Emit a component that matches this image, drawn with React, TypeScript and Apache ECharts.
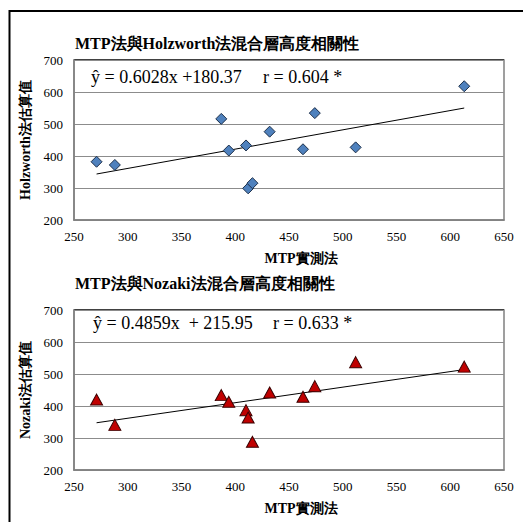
import React, { useEffect, useRef } from "react";
import * as echarts from "echarts";

const mtp = [271, 288, 387, 394, 410, 412, 416, 432, 463, 474, 512, 613];
const holzworth = [382, 372, 516, 417, 433, 299, 315, 476, 421, 534, 427, 618];
const nozaki = [420, 341, 434, 413, 387, 364, 288, 442, 429, 462, 537, 523];

const holzFit = { slope: 0.6028, intercept: 180.37, r: 0.604 };
const nozFit = { slope: 0.4859, intercept: 215.95, r: 0.633 };

const titles = ["MTP法與Holzworth法混合層高度相關性", "MTP法與Nozaki法混合層高度相關性"];
const yNames = ["Holzworth法估算值", "Nozaki法估算值"];
const xName = "MTP實測法";
const eqLeft = ["ŷ = 0.6028x +180.37", "ŷ = 0.4859x  + 215.95"];
const eqRight = ["r = 0.604 *", "r = 0.633 *"];

const X_MIN = 250, X_MAX = 650, X_INT = 50;
const Y_MIN = 200, Y_MAX = 700, Y_INT = 100;

const SERIF = "Liberation Serif";

function trend(fit: { slope: number; intercept: number }) {
  const lo = Math.min(...mtp);
  const hi = Math.max(...mtp);
  return [
    [lo, fit.slope * lo + fit.intercept],
    [hi, fit.slope * hi + fit.intercept],
  ];
}

export default function App() {
  const ref = useRef<HTMLDivElement>(null);
  useEffect(() => {
    if (!ref.current) return;
    const chart = echarts.init(ref.current, undefined, { renderer: "svg" });
    const grids = [
      { left: 74, top: 60, width: 430, height: 160 },
      { left: 74, top: 310, width: 430, height: 160 },
    ];
    const labelStyle = { fontFamily: SERIF, fontSize: 13, color: "#000" };
    const xAxes = grids.map((_, i) => ({
      type: "value",
      gridIndex: i,
      min: X_MIN,
      max: X_MAX,
      interval: X_INT,
      name: xName,
      nameLocation: "middle",
      nameGap: 31,
      nameTextStyle: { fontFamily: SERIF, fontWeight: "bold", fontSize: 14, color: "#000", padding: [0, 0, 0, 24] },
      axisLine: { show: true, lineStyle: { color: "#808080", width: 1.5 } },
      axisTick: { show: false },
      splitLine: { show: false },
      axisLabel: { ...labelStyle, margin: 10 },
    }));
    const yAxes = grids.map((_, i) => ({
      type: "value",
      gridIndex: i,
      min: Y_MIN,
      max: Y_MAX,
      interval: Y_INT,
      name: yNames[i],
      nameLocation: "middle",
      nameRotate: 90,
      nameGap: 33,
      nameTextStyle: { fontFamily: SERIF, fontWeight: "bold", fontSize: 14, color: "#000" },
      axisLine: { show: true, lineStyle: { color: "#808080", width: 1.5 } },
      axisTick: { show: false },
      splitLine: { show: true, lineStyle: { color: "#8c8c8c", width: 1 } },
      axisLabel: { ...labelStyle, margin: 11 },
    }));
    const titleStyle = { fontFamily: SERIF, fontWeight: "bold", fontSize: 16, color: "#000" };
    const eqStyle = { fontFamily: SERIF, fontWeight: "normal", fontSize: 18, color: "#000" };
    const option = {
      animation: false,
      backgroundColor: "#fff",
      textStyle: { fontFamily: SERIF },
      title: [
        { text: titles[0], left: 75, top: 35, padding: 0, textStyle: titleStyle },
        { text: titles[1], left: 75, top: 275, padding: 0, textStyle: titleStyle },
        { text: eqLeft[0], left: 91, top: 68, padding: 0, textStyle: eqStyle },
        { text: eqRight[0], left: 263, top: 68, padding: 0, textStyle: eqStyle },
        { text: eqLeft[1], left: 93, top: 314, padding: 0, textStyle: eqStyle },
        { text: eqRight[1], left: 273, top: 314, padding: 0, textStyle: eqStyle },
      ],
      grid: grids.map((g) => ({ ...g, show: true, borderColor: "#808080", borderWidth: 1.5, backgroundColor: "transparent" })),
      xAxis: xAxes,
      yAxis: yAxes,
      graphic: [
        { type: "line", shape: { x1: 9.5, y1: 10, x2: 9.5, y2: 522 }, style: { stroke: "#000", lineWidth: 2 } },
        { type: "line", shape: { x1: 9, y1: 11, x2: 523, y2: 11 }, style: { stroke: "#000", lineWidth: 2 } },
        { type: "line", shape: { x1: 74, y1: 60, x2: 504, y2: 60 }, style: { stroke: "#222", lineWidth: 1.5 } },
        { type: "line", shape: { x1: 74, y1: 310, x2: 504, y2: 310 }, style: { stroke: "#222", lineWidth: 1.5 } },
      ],
      series: [
        {
          type: "line",
          xAxisIndex: 0,
          yAxisIndex: 0,
          data: trend(holzFit),
          symbol: "none",
          lineStyle: { color: "#000", width: 1 },
          z: 2,
        },
        {
          type: "scatter",
          xAxisIndex: 0,
          yAxisIndex: 0,
          data: mtp.map((x, i) => [x, holzworth[i]]),
          symbol: "diamond",
          symbolSize: [11, 11],
          itemStyle: { color: "#4f81bd", borderColor: "#1c2f4a", borderWidth: 1, opacity: 1 },
          z: 3,
        },
        {
          type: "line",
          xAxisIndex: 1,
          yAxisIndex: 1,
          data: trend(nozFit),
          symbol: "none",
          lineStyle: { color: "#000", width: 1 },
          z: 2,
        },
        {
          type: "scatter",
          xAxisIndex: 1,
          yAxisIndex: 1,
          data: mtp.map((x, i) => [x, nozaki[i]]),
          symbol: "triangle",
          symbolSize: [12, 11],
          itemStyle: { color: "#c00000", borderColor: "#3a0000", borderWidth: 1, opacity: 1 },
          z: 3,
        },
      ],
    };
    chart.setOption(option as any);
    return () => chart.dispose();
  }, []);
  return (
    <div
      ref={ref}
      style={{ position: "fixed", left: 0, top: 0, width: 523, height: 522, background: "#fff" }}
    />
  );
}
